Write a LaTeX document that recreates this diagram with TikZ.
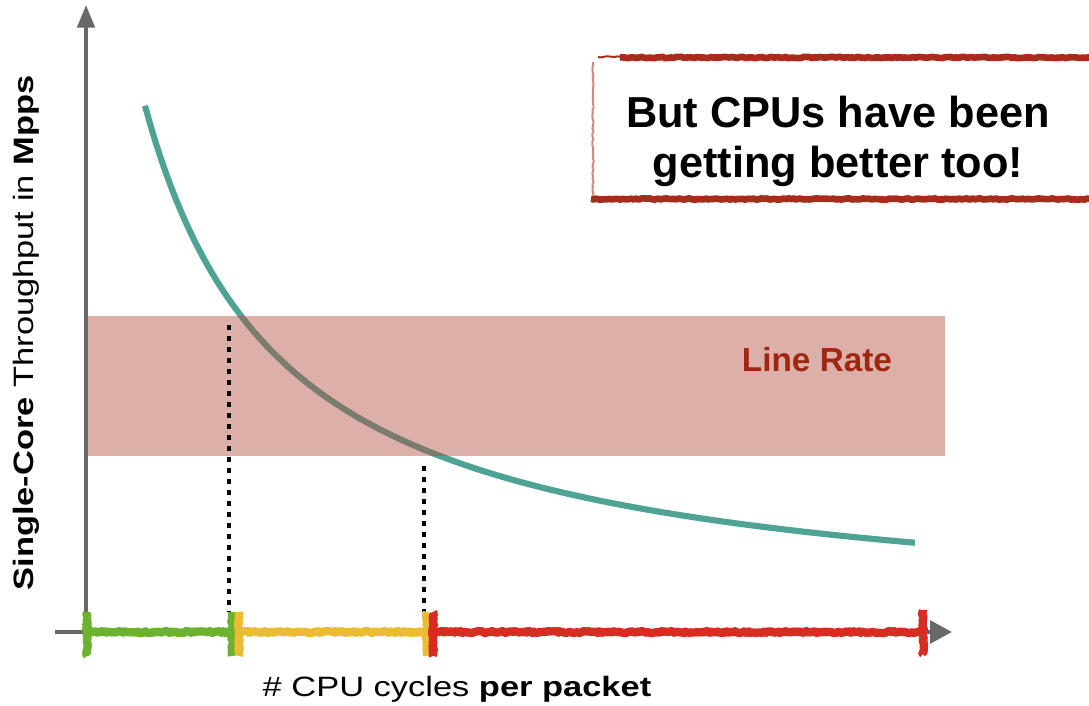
\documentclass[tikz,border=0pt]{standalone}
\usepackage{fontspec}
\setmainfont{Liberation Sans}
\newfontfamily\axisfont[FakeStretch=1.23]{Liberation Sans}
\usetikzlibrary{arrows.meta,decorations.pathmorphing,calc}

\definecolor{axisgray}{RGB}{104,104,104}
\definecolor{curveteal}{RGB}{78,163,148}
\definecolor{bandred}{RGB}{178,78,62}
\definecolor{ratered}{RGB}{160,38,18}
\definecolor{segGreen}{RGB}{108,178,46}
\definecolor{segYellow}{RGB}{234,188,52}
\definecolor{segRed}{RGB}{214,44,34}
\definecolor{boxred}{RGB}{168,44,28}

\begin{document}
\begin{tikzpicture}[x=0.75pt,y=-0.75pt,
  chalk/.style={draw=#1, line width=6.2pt, line join=round, decorate,
    decoration={random steps,segment length=1.4pt,amplitude=0.8pt}},
  guide/.style={draw=black, line width=3.6pt, dash pattern=on 3.6pt off 4.65pt},
  axisline/.style={draw=axisgray, line width=3pt},
  frameedge/.style={draw=boxred, line join=round, decorate,
    decoration={random steps,segment length=2pt,amplitude=0.5pt}},
  curve/.style={draw=curveteal, line width=4.6pt},
]
\useasboundingbox (0,0) rectangle (1089,706);

% axes
\coordinate (O) at (86,634);
\coordinate (ytip) at (86,5);
\coordinate (xstart) at (55,632);
\coordinate (xtip) at (952,632);
\draw[axisline, -{Triangle[length=17pt,width=13pt]}] (O) -- (ytip);
\draw[axisline, -{Triangle[length=16.5pt,width=17pt]}] (xstart) -- (xtip);

% throughput curve
\draw[curve] plot[domain=145:915, samples=150, smooth]
  (\x, {622.2 - 723/((\x-5)/100)});

% line-rate band, translucent over the curve
\fill[bandred, opacity=0.45] (88,316) rectangle (945,456);
\node[font=\fontsize{25pt}{30pt}\selectfont\bfseries, text=ratered, inner sep=0pt]
  (rate) at (817,360) {Line Rate};

% dotted guides down to the axis
\coordinate (c1) at (229,325);
\coordinate (c1b) at (229,612);
\coordinate (c2) at (424,466);
\coordinate (c2b) at (424,612);
\draw[guide] (c1) -- (c1b);
\draw[guide] (c2) -- (c2b);

% coloured ranges on the x axis
\coordinate (g0) at (87,632);
\coordinate (g1) at (232,632);
\coordinate (y0) at (239,632);
\coordinate (y1) at (427,632);
\coordinate (r0) at (433,632);
\coordinate (r1) at (923,632);

\draw[chalk=segGreen] (g0) -- (g1);
\draw[chalk=segGreen] ($(g0)+(0,-20)$) -- ($(g0)+(0,24)$);
\draw[chalk=segGreen] ($(g1)+(0,-20)$) -- ($(g1)+(0,24)$);

\draw[chalk=segYellow] (y0) -- (y1);
\draw[chalk=segYellow] ($(y0)+(0,-20)$) -- ($(y0)+(0,24)$);
\draw[chalk=segYellow] ($(y1)+(0,-20)$) -- ($(y1)+(0,24)$);

\draw[chalk=segRed] (r0) -- (r1);
\draw[chalk=segRed] ($(r0)+(0,-20)$) -- ($(r0)+(0,24)$);
\draw[chalk=segRed] ($(r1)+(0,-22)$) -- ($(r1)+(0,22)$);

% axis labels
\node[font=\axisfont\fontsize{21pt}{25pt}\selectfont, anchor=base, inner sep=0pt]
  (xlab) at (457,696) {\# CPU cycles \textbf{per packet}};
\node[font=\axisfont\fontsize{21pt}{25pt}\selectfont, rotate=90, anchor=base, inner sep=0pt]
  (ylab) at (33,333) {\textbf{Single-Core} Throughput in \textbf{Mpps}};

% call-out box: heavy top and bottom edges, faint left edge
\draw[frameedge, line width=1.5pt] (598,57) -- (625,57);
\draw[frameedge, line width=5pt] (620,57.5) -- (1095,57.5);
\draw[frameedge, line width=5pt] (591,199) -- (1095,199);
\draw[frameedge, line width=1.5pt, draw opacity=0.55] (593,62) -- (593,199);
\node[font=\fontsize{32.5pt}{37.5pt}\selectfont\bfseries, align=center, inner sep=0pt]
  (msg) at (838,141) {But CPUs have been\\getting better too!};
\end{tikzpicture}
\end{document}
